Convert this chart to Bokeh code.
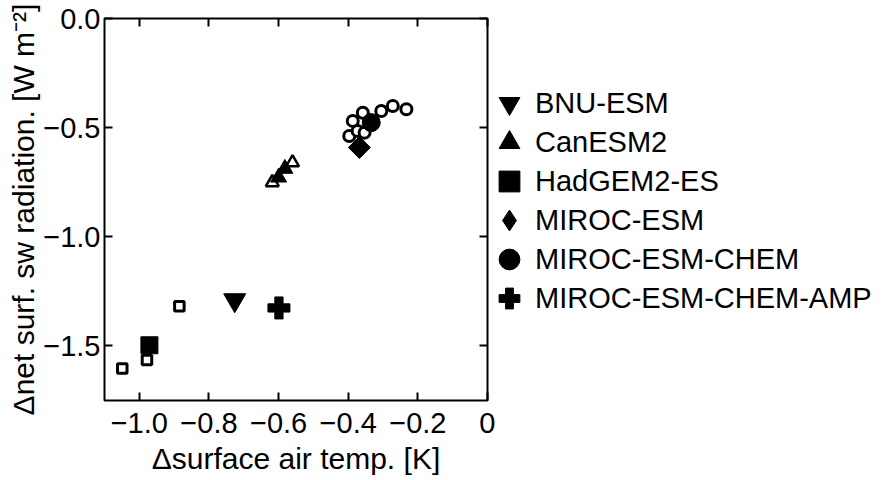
import math
from bokeh.plotting import figure
from bokeh.layouts import row
from bokeh.models import (Range1d, LinearAxis, FixedTicker, CustomJSTickFormatter,
                          CustomLabelingPolicy, Legend, LegendItem)
from bokeh.embed import file_html
from bokeh.resources import INLINE

FONT = "Liberation Sans"

# ---- tick labels ----
x_ticks = [-1.0, -0.8, -0.6, -0.4, -0.2, 0.0]
x_tick_labels = ["\u22121.0", "\u22120.8", "\u22120.6", "\u22120.4", "\u22120.2", "0"]
y_ticks = [0.0, -0.5, -1.0, -1.5]
y_tick_labels = ["0.0", "\u22120.5", "\u22121.0", "\u22121.5"]

# ---- data ----
models = ["BNU-ESM", "CanESM2", "HadGEM2-ES", "MIROC-ESM", "MIROC-ESM-CHEM", "MIROC-ESM-CHEM-AMP"]

bnu_x = [-0.726]
bnu_y = [-1.290]

can_x = [-0.600, -0.582]
can_y = [-0.728, -0.688]
can_open_x = [-0.618, -0.560]
can_open_y = [-0.751, -0.660]

had_x = [-0.971]
had_y = [-1.497]
had_open_x = [-1.049, -0.978, -0.885]
had_open_y = [-1.603, -1.565, -1.318]

miroc_x = [-0.368]
miroc_y = [-0.591]

chem_x = [-0.334]
chem_y = [-0.477]
chem_open_x = [-0.387, -0.358, -0.397, -0.373, -0.353, -0.305, -0.272, -0.233]
chem_open_y = [-0.469, -0.432, -0.538, -0.515, -0.523, -0.424, -0.401, -0.416]

amp_x = [-0.599]
amp_y = [-1.326]

TOP, BOTTOM = 18, 80

# ---- main figure ----
p = figure(width=495, height=480,
           x_range=Range1d(-1.1, 0.0), y_range=Range1d(-1.75, 0.0),
           output_backend="svg", toolbar_location=None,
           min_border_left=104, min_border_right=8,
           min_border_top=TOP, min_border_bottom=BOTTOM)
p.grid.visible = False
p.outline_line_color = "black"
p.outline_line_width = 2
p.background_fill_color = "white"
p.border_fill_color = "white"


def fmt(ticks, labels):
    return CustomJSTickFormatter(args=dict(tvals=ticks, tlabs=labels), code="""
        const i = tvals.findIndex(t => Math.abs(t - tick) < 1e-9);
        return i >= 0 ? tlabs[i] : "";
    """)


def style_axis(ax, ticks, labels, show_labels=True):
    ax.ticker = FixedTicker(ticks=ticks)
    ax.axis_line_color = None
    ax.major_tick_in = 8
    ax.major_tick_out = 0
    ax.major_tick_line_width = 2
    ax.major_tick_line_color = "black"
    ax.minor_tick_line_color = None
    ax.major_label_text_font = FONT
    ax.major_label_text_color = "black"
    ax.axis_label_text_font = FONT
    ax.axis_label_text_font_style = "normal"
    ax.axis_label_text_color = "black"
    if show_labels:
        ax.formatter = fmt(ticks, labels)
        ax.major_label_text_font_size = "29px"
        ax.axis_label_text_font_size = "30px"
    else:
        ax.formatter = fmt(ticks, [""] * len(ticks))
        ax.major_label_text_font_size = "0px"
        ax.major_label_standoff = 0
        ax.major_label_policy = CustomLabelingPolicy(code="""
            for (const i of Array.from(indices)) indices.unset(i);
            return indices;
        """)


xa = p.xaxis[0]
ya = p.yaxis[0]
style_axis(xa, x_ticks, x_tick_labels)
style_axis(ya, y_ticks, y_tick_labels)
xa.axis_label = "\u0394surface air temp. [K]"
ya.axis_label = "\u0394net surf. sw radiation. [W m\u207b\u00b2]"
xa.major_label_standoff = 12
ya.major_label_standoff = 4
xa.axis_label_standoff = 6
ya.axis_label_standoff = 0

top = LinearAxis()
style_axis(top, x_ticks, x_tick_labels, show_labels=False)
p.add_layout(top, "above")
right = LinearAxis()
style_axis(right, y_ticks, y_tick_labels, show_labels=False)
p.add_layout(right, "right")

# ---- open markers (members) ----
p.scatter(had_open_x, had_open_y, marker="square", size=9.5, fill_color="white",
          line_color="black", line_width=3)
p.scatter(can_open_x, can_open_y, marker="triangle", size=13, fill_color="white",
          line_color="black", line_width=2.5)
p.scatter(chem_open_x, chem_open_y, marker="circle", size=11, fill_color="white",
          line_color="black", line_width=3)

# ---- filled markers (model means) ----
p.scatter(bnu_x, bnu_y, marker="inverted_triangle", size=22, color="black")
p.scatter(can_x, can_y, marker="triangle", size=16, color="black")
p.scatter(had_x, had_y, marker="square", size=17, color="black")
p.scatter(miroc_x, miroc_y, marker="square", size=15.5, angle=math.pi / 4, color="black")
p.scatter(chem_x, chem_y, marker="circle", size=18, color="black")
p.scatter(amp_x, amp_y, marker="plus", size=22, color="black")

# ---- legend panel (separate figure; legend glyph renderers lie outside its ranges) ----
q = figure(width=392, height=480, x_range=Range1d(5, 6), y_range=Range1d(5, 6),
           output_backend="svg", toolbar_location=None,
           min_border_left=0, min_border_right=0,
           min_border_top=TOP, min_border_bottom=BOTTOM)
q.axis.visible = False
q.grid.visible = False
q.outline_line_color = None
q.background_fill_color = "white"
q.border_fill_color = "white"

leg_renderers = [
    q.scatter(bnu_x, bnu_y, marker="inverted_triangle", color="black"),
    q.scatter(can_x, can_y, marker="triangle", color="black"),
    q.scatter(had_x, had_y, marker="square", color="black"),
    q.scatter(miroc_x, miroc_y, marker="diamond", color="black"),
    q.scatter(chem_x, chem_y, marker="circle", color="black"),
    q.scatter(amp_x, amp_y, marker="plus", color="black"),
]

BOX = 52          # legend glyph box (glyph size = 0.4 * BOX)
ROW0 = 103        # centre of first legend row, px from top of page
PITCH = 39        # row pitch, px
FRAME_BOTTOM = 480 - BOTTOM
for k, (m, r) in enumerate(zip(models, leg_renderers)):
    centre = ROW0 + k * PITCH
    lg = Legend(items=[LegendItem(label=m, renderers=[r])],
                location=(-12, FRAME_BOTTOM - centre - BOX / 2),
                glyph_width=BOX, glyph_height=BOX, label_height=BOX,
                label_standoff=0, padding=0, margin=0, spacing=0,
                border_line_color=None, background_fill_alpha=0,
                label_text_font=FONT, label_text_font_size="29px",
                label_text_color="black")
    q.add_layout(lg)

open("out.html", "w").write(file_html(row(p, q), INLINE))
